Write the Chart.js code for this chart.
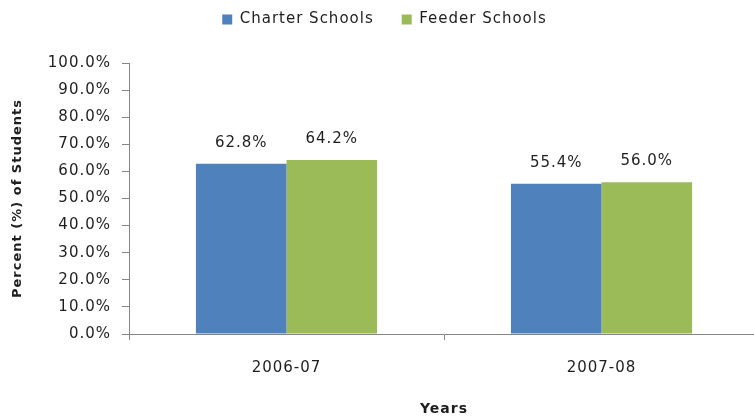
<!DOCTYPE html>
<html>
<head>
<meta charset="utf-8">
<script src="https://cdn.jsdelivr.net/npm/chart.js@4/dist/chart.umd.min.js"></script>
<style>
  html, body { margin: 0; padding: 0; background: #fff; overflow: hidden; }
  #wrap { width: 764px; height: 418px; }
</style>
</head>
<body>
<div id="wrap"><canvas id="chart"></canvas></div>
<script>
  const years = ["2006-07", "2007-08"];
  const charterSchools = [62.8, 55.4];
  const feederSchools = [64.2, 56.0];
  const yTicks = { min: 0, max: 100, step: 10 };

  const textColor = "#1e1e1e";
  const axisColor = "#868686";
  const fontFamily = "'DejaVu Sans', sans-serif";

  // slightly spaced-out text, like the original picture
  // (set before layout too so the legend is measured with it)
  const spacing = {
    id: "spacing",
    beforeLayout: function (chart) { chart.ctx.letterSpacing = "1px"; },
    beforeDraw: function (chart) { chart.ctx.letterSpacing = "1px"; }
  };

  // more room under the legend
  const legendGap = {
    id: "legendGap",
    beforeInit: function (chart) {
      const fit = chart.legend.fit;
      chart.legend.fit = function () {
        fit.bind(chart.legend)();
        this.height += 26;
      };
    }
  };

  // value labels above the bars
  const barLabels = {
    id: "barLabels",
    afterDatasetsDraw: function (chart) {
      const ctx = chart.ctx;
      ctx.save();
      ctx.letterSpacing = "1px";
      ctx.font = "15px " + fontFamily;
      ctx.fillStyle = textColor;
      ctx.textAlign = "center";
      ctx.textBaseline = "middle";
      chart.data.datasets.forEach(function (ds, i) {
        chart.getDatasetMeta(i).data.forEach(function (bar, j) {
          ctx.fillText(ds.data[j].toFixed(1) + "%", bar.x, bar.y - 21);
        });
      });
      ctx.restore();
    }
  };

  const ctx = document.getElementById("chart").getContext("2d");
  ctx.letterSpacing = "1px";
  const chart = new Chart(ctx, {
    type: "bar",
    data: {
      labels: years,
      datasets: [
        { label: "Charter Schools", data: charterSchools, backgroundColor: "#4F81BD" },
        { label: "Feeder Schools", data: feederSchools, backgroundColor: "#9BBB59" }
      ]
    },
    options: {
      responsive: true,
      maintainAspectRatio: false,
      animation: false,
      categoryPercentage: 0.575,
      barPercentage: 1,
      layout: { padding: { top: -16, right: 5, left: 10, bottom: 0 } },
      plugins: {
        legend: {
          position: "top",
          labels: {
            boxWidth: 10,
            boxHeight: 10,
            padding: 28,
            color: textColor,
            font: { family: fontFamily, size: 15 }
          }
        },
        tooltip: { enabled: false }
      },
      scales: {
        x: {
          grid: {
            display: true,
            drawOnChartArea: false,
            drawTicks: true,
            tickLength: 6,
            color: axisColor
          },
          border: { display: true, color: axisColor },
          ticks: { color: textColor, padding: 19, font: { family: fontFamily, size: 15 } },
          title: {
            display: true,
            text: "Years",
            color: textColor,
            padding: { top: 16, bottom: 0 },
            font: { family: fontFamily, size: 14, weight: "bold" }
          },
          afterFit: function (scale) { scale.height = 84; }
        },
        y: {
          min: yTicks.min,
          max: yTicks.max,
          grid: {
            display: true,
            drawOnChartArea: false,
            drawTicks: true,
            tickLength: 7,
            color: axisColor
          },
          border: { display: true, color: axisColor },
          ticks: {
            stepSize: yTicks.step,
            color: textColor,
            padding: 11,
            font: { family: fontFamily, size: 15 },
            callback: function (v) { return v.toFixed(1) + "%"; }
          },
          title: {
            display: true,
            text: "Percent (%) of Students",
            color: textColor,
            padding: { top: 0, bottom: 4 },
            font: { family: fontFamily, size: 13, weight: "bold" }
          },
          afterFit: function (scale) { scale.width = 119; }
        }
      }
    },
    plugins: [spacing, legendGap, barLabels]
  });
</script>
</body>
</html>
